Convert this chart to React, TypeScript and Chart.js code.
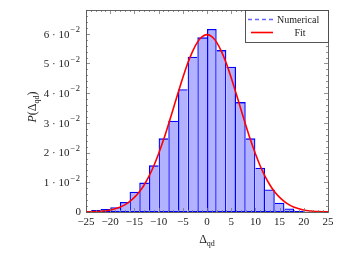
import React, { useEffect, useRef } from "react";
import { Chart, registerables } from "chart.js";

Chart.register(...registerables);

// Histogram bins (width 2), centers and bar heights
const binCenters = [-23, -21, -19, -17, -15, -13, -11, -9, -7, -5, -3, -1, 1, 3, 5, 7, 9, 11, 13, 15, 17, 19, 21];
const binValues = [0.0007, 0.001, 0.0016, 0.0034, 0.0068, 0.0099, 0.0157, 0.0248, 0.0307, 0.0413, 0.0523, 0.0588, 0.0616, 0.0545, 0.0489, 0.037, 0.0248, 0.0149, 0.0076, 0.0031, 0.0012, 0.0003, 0.0001];

// Fit curve
const fitX = [-25, -24, -23, -22, -21, -20, -19, -18, -17, -16, -15, -14, -13, -12, -11, -10, -9, -8, -7, -6, -5, -4, -3, -2, -1, 0, 1, 2, 3, 4, 5, 6, 7, 8, 9, 10, 11, 12, 13, 14, 15, 16, 17, 18, 19, 20, 21, 22, 23, 24, 25];
const fitY = [0.00006, 0.0001, 0.00017, 0.00027, 0.00044, 0.0007, 0.0011, 0.0016, 0.0024, 0.0035, 0.0049, 0.0067, 0.0091, 0.012, 0.0155, 0.0196, 0.0242, 0.0293, 0.0346, 0.04, 0.0452, 0.05, 0.054, 0.0571, 0.059, 0.0597, 0.059, 0.0571, 0.054, 0.05, 0.0452, 0.04, 0.0346, 0.0293, 0.0242, 0.0196, 0.0155, 0.012, 0.0091, 0.0067, 0.0049, 0.0035, 0.0024, 0.0016, 0.0011, 0.0007, 0.00044, 0.00027, 0.00017, 0.0001, 0.00006];

const xTicks = [-25, -20, -15, -10, -5, 0, 5, 10, 15, 20, 25];
const yTicks = [0, 0.01, 0.02, 0.03, 0.04, 0.05, 0.06];
const yTickMantissa = ["0", "1", "2", "3", "4", "5", "6"];
const legendLabels = ["Numerical", "Fit"];
const xTitle = ["Δ", "qd"];
const yTitle = ["P", "(Δ", "qd", ")"];

const SERIF = '"Liberation Serif", "DejaVu Serif", serif';

const peakIndex = binValues.indexOf(Math.max(...binValues));

const decorPlugin = {
  id: "decor",
  afterDatasetsDraw(chart: any) {
    const ctx = chart.ctx;
    const { left, right, top, bottom } = chart.chartArea;
    const xs = chart.scales.x;
    const ys = chart.scales.y;
    ctx.save();
    // ticks
    ctx.strokeStyle = "#777";
    ctx.lineWidth = 0.8;
    const tick = (x1: number, y1: number, x2: number, y2: number) => {
      ctx.beginPath();
      ctx.moveTo(x1, y1);
      ctx.lineTo(x2, y2);
      ctx.stroke();
    };
    for (let v = -25; v <= 25; v += 1) {
      const px = Math.round(xs.getPixelForValue(v)) + 0.5;
      const len = v % 5 === 0 ? 4 : 2;
      tick(px, bottom, px, bottom - len);
      tick(px, top, px, top + len);
    }
    for (let i = 0; i <= 34; i++) {
      const v = i * 0.002;
      const py = Math.round(ys.getPixelForValue(v)) + 0.5;
      const len = i % 5 === 0 ? 4 : 2;
      tick(left, py, left + len, py);
      tick(right, py, right - len, py);
    }
    // frame
    ctx.strokeStyle = "#555";
    ctx.lineWidth = 0.9;
    ctx.strokeRect(left + 0.5, top + 0.5, right - left, bottom - top);

    // y tick labels with superscripts
    ctx.fillStyle = "#222";
    ctx.textBaseline = "middle";
    const big = `11px ${SERIF}`;
    const sup = `8.5px ${SERIF}`;
    yTicks.forEach((v, i) => {
      const py = ys.getPixelForValue(v);
      const m = yTickMantissa[i];
      if (m === "0") {
        ctx.font = big;
        ctx.textAlign = "right";
        ctx.fillText("0", left - 5, py);
        return;
      }
      ctx.textAlign = "right";
      ctx.font = sup;
      ctx.fillText("2", left - 6, py - 4);
      const w2 = ctx.measureText("2").width;
      ctx.fillText("\u2212", left - 6 - w2 - 0.5, py - 4);
      const wm = ctx.measureText("\u2212").width;
      ctx.font = big;
      ctx.fillText(`${m} \u00b7 10`, left - 6 - w2 - wm - 1.5, py + 1);
    });

    // legend
    const lx = 245.5, ly = top + 0.5, lw = right - 245, lh = 32;
    ctx.fillStyle = "#fff";
    ctx.fillRect(lx, ly, lw, lh);
    ctx.strokeStyle = "#444";
    ctx.lineWidth = 0.9;
    ctx.strokeRect(lx, ly, lw, lh);
    ctx.strokeStyle = "rgba(60,60,255,0.8)";
    ctx.lineWidth = 1.3;
    ctx.setLineDash([4, 3]);
    tick(248, ly + 9, 274, ly + 9);
    ctx.setLineDash([]);
    ctx.strokeStyle = "#ff0000";
    ctx.lineWidth = 1.6;
    tick(251, ly + 22, 273, ly + 22);
    ctx.fillStyle = "#222";
    ctx.font = `10px ${SERIF}`;
    ctx.textBaseline = "alphabetic";
    ctx.textAlign = "left";
    ctx.fillText(legendLabels[0], 277, ly + 12);
    ctx.textAlign = "center";
    ctx.fillText(legendLabels[1], 300, ly + 25);

    // x title
    ctx.textAlign = "left";
    const tbig = `12px ${SERIF}`;
    const small = `8px ${SERIF}`;
    ctx.font = tbig;
    const w1 = ctx.measureText(xTitle[0]).width;
    ctx.font = small;
    const w2 = ctx.measureText(xTitle[1]).width;
    const sx = (left + right) / 2 - (w1 + w2) / 2;
    ctx.font = tbig;
    ctx.fillText(xTitle[0], sx, 243);
    ctx.font = small;
    ctx.fillText(xTitle[1], sx + w1, 246);

    // y title
    ctx.translate(36, (top + bottom) / 2 - 4);
    ctx.rotate(-Math.PI / 2);
    const fonts = [`italic 12px ${SERIF}`, tbig, small, tbig];
    const dys = [0, 0, 3, 0];
    const widths = yTitle.map((t, i) => {
      ctx.font = fonts[i];
      return ctx.measureText(t).width;
    });
    const total = widths.reduce((a, b) => a + b, 0);
    let cx = -total / 2;
    yTitle.forEach((t, i) => {
      ctx.font = fonts[i];
      ctx.fillText(t, cx, dys[i]);
      cx += widths[i];
    });
    ctx.restore();
  },
};

export default function App() {
  const ref = useRef<HTMLCanvasElement>(null);
  useEffect(() => {
    if (!ref.current) return;
    const chart = new Chart(ref.current, {
      type: "bar",
      data: {
        datasets: [
          {
            type: "line",
            label: "Fit",
            data: fitX.map((x, i) => ({ x, y: fitY[i] })),
            borderColor: "#ff0000",
            borderWidth: 1.6,
            pointRadius: 0,
            cubicInterpolationMode: "monotone",
            fill: false,
            order: 0,
          } as any,
          {
            type: "bar",
            label: "Numerical",
            data: binCenters.map((x, i) => ({ x, y: binValues[i] })),
            backgroundColor: "rgba(0,0,255,0.3)",
            borderColor: "#0000ff",
            // shared edges drawn once: taller neighbour draws the common edge
            borderWidth: (c: any) => {
              const i = c.dataIndex;
              return {
                top: 1.3,
                bottom: 1,
                left: i <= peakIndex ? 1.3 : 0,
                right: i >= peakIndex ? 1.3 : 0,
              };
            },
            borderSkipped: false,
            inflateAmount: 0,
            barPercentage: 1,
            categoryPercentage: 1,
            order: 1,
          } as any,
        ],
      },
      options: {
        responsive: false,
        animation: false,
        layout: { padding: { left: 0, right: 21, top: 10, bottom: 0 } },
        plugins: { legend: { display: false }, tooltip: { enabled: false } },
        scales: {
          x: {
            type: "linear",
            min: -25,
            max: 25,
            offset: false,
            grid: { display: false, offset: false, drawTicks: false },
            border: { display: false },
            afterBuildTicks: (s: any) => {
              s.ticks = xTicks.map((v) => ({ value: v }));
            },
            afterFit: (s: any) => {
              s.height = 47;
            },
            ticks: {
              autoSkip: false,
              maxRotation: 0,
              padding: 4,
              color: "#222",
              font: { family: SERIF, size: 11 },
              callback: (v: any) => (v < 0 ? "\u2212" + Math.abs(v) : String(v)),
            },
          },
          y: {
            type: "linear",
            min: 0,
            max: 0.068,
            grid: { display: false, drawTicks: false },
            border: { display: false },
            afterBuildTicks: (s: any) => {
              s.ticks = yTicks.map((v) => ({ value: v }));
            },
            afterFit: (s: any) => {
              s.width = 86;
            },
            ticks: { display: false },
          },
        },
      },
      plugins: [decorPlugin],
    });
    return () => chart.destroy();
  }, []);
  return (
    <div style={{ position: "fixed", left: 0, top: 0, width: 349, height: 259, background: "#fff" }}>
      <canvas ref={ref} width={349} height={259} style={{ width: 349, height: 259 }} />
    </div>
  );
}
